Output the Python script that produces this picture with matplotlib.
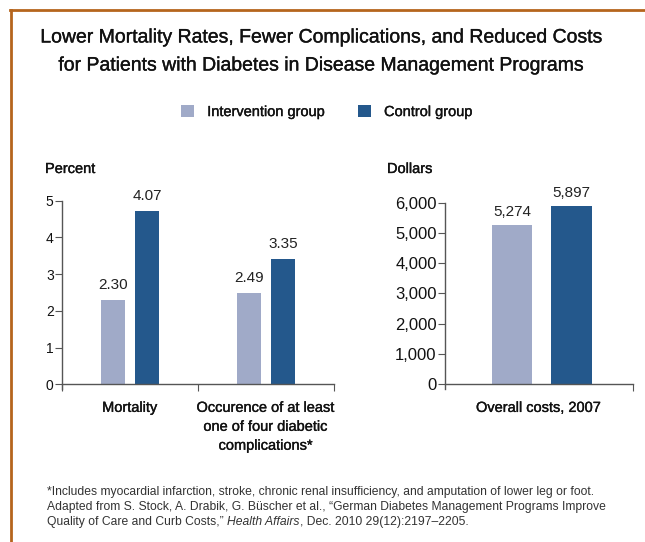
import matplotlib.pyplot as plt
import matplotlib.patheffects as pe
from matplotlib.patches import Patch
from matplotlib.lines import Line2D

plt.rcParams['font.family'] = ['Liberation Sans', 'DejaVu Sans']

# data
groups = ['Intervention group', 'Control group']
pct_categories = ['Mortality', 'Occurence of at least\none of four diabetic\ncomplications*']
pct_intervention = [2.30, 2.49]
pct_control = [4.72, 3.40]           # bar heights as drawn
pct_int_labels = ['2.30', '2.49']
pct_ctl_labels = ['4.07', '3.35']    # printed labels
cost_category = 'Overall costs, 2007'
cost_values = [5274, 5897]
cost_labels = ['5,274', '5,897']
pct_ticks = [0, 1, 2, 3, 4, 5]
cost_ticks = [0, 1000, 2000, 3000, 4000, 5000, 6000]

light = '#A0AAC8'
dark = '#24588C'
axis_col = '#555555'
txt = '#111111'
heavy = [pe.withStroke(linewidth=0.25, foreground=txt)]

W, H = 645, 542
fig = plt.figure(figsize=(W / 100, H / 100), dpi=100)


def px(x, y):
    return x / W, 1 - y / H


# frame lines (top and left only)
fig.add_artist(Line2D([10 / W, 1], [1 - 10 / H] * 2, color='#B5651D', lw=2, transform=fig.transFigure))
fig.add_artist(Line2D([11 / W] * 2, [0, 1 - 10 / H], color='#B5651D', lw=2, transform=fig.transFigure))

fig.text(*px(323, 52), 'Lower Mortality Rates, Fewer Complications, and Reduced Costs\n'
         'for Patients with Diabetes in Disease Management Programs',
         ha='center', va='center', fontsize=14, color=txt, linespacing=1.85, path_effects=heavy)

handles = [Patch(facecolor=light, edgecolor='none'), Patch(facecolor=dark, edgecolor='none')]
leg = fig.legend(handles, groups, loc='center', bbox_to_anchor=px(327, 112), ncol=2, frameon=False,
                 fontsize=10.5, handlelength=0.9, handleheight=0.9, columnspacing=2.2,
                 handletextpad=0.9)
for t in leg.get_texts():
    t.set_color(txt)
    t.set_path_effects(heavy)


def style(ax, ticks, fs):
    for s in ['top', 'right']:
        ax.spines[s].set_visible(False)
    ax.spines['bottom'].set_position(('data', 0))
    for s in ['left', 'bottom']:
        ax.spines[s].set_color(axis_col)
        ax.spines[s].set_linewidth(1)
    ax.set_yticks(ticks)
    ax.tick_params(axis='y', direction='out', length=5, color=axis_col, labelsize=fs, pad=1,
                   labelcolor=txt)
    ax.tick_params(axis='x', direction='out', length=5, color=axis_col, labelbottom=False)


# left panel: percent
ax1 = fig.add_axes([62 / W, 0.2828, 272 / W, 0.3469])
x = [0.5, 1.5]
xi = [v - 0.125 for v in x]
xc = [v + 0.125 for v in x]
ax1.bar(xi, pct_intervention, width=0.17, color=light)
ax1.bar(xc, pct_control, width=0.18, color=dark)
for xx, v, lab in zip(xi, pct_intervention, pct_int_labels):
    ax1.text(xx, v + 0.22, lab, ha='center', va='bottom', fontsize=11, color='#222222')
for xx, v, lab in zip(xc, pct_control, pct_ctl_labels):
    ax1.text(xx, v + 0.22, lab, ha='center', va='bottom', fontsize=11, color='#222222')
ax1.set_xlim(0, 2)
ax1.set_ylim(-0.12, 5)
style(ax1, pct_ticks, 10)
ax1.set_xticks([0, 1, 2])
ax1.spines['left'].set_bounds(-0.12, 5)
ax1.text(0.5, -0.45, pct_categories[0], ha='center', va='top', fontsize=10.5, color=txt,
         path_effects=heavy)
ax1.text(1.5, -0.45, pct_categories[1], ha='center', va='top', fontsize=10.5, color=txt,
         linespacing=1.45, path_effects=heavy)
fig.text(*px(45, 169), 'Percent', ha='left', va='center', fontsize=10.5, color=txt,
         path_effects=heavy)

# right panel: dollars
ax2 = fig.add_axes([445 / W, 0.2821, 188 / W, 0.3439])
xd = [0.357, 0.673]
ax2.bar(xd[0], cost_values[0], width=0.21, color=light)
ax2.bar(xd[1], cost_values[1], width=0.22, color=dark)
for xx, v, lab in zip(xd, cost_values, cost_labels):
    ax2.text(xx, v + 180, lab, ha='center', va='bottom', fontsize=11, color='#222222')
ax2.set_xlim(0, 1)
ax2.set_ylim(-160, 6000)
style(ax2, cost_ticks, 12)
ax2.set_yticklabels([f'{t:,}' for t in cost_ticks])
ax2.set_xticks([1])
ax2.text(0.5, -550, cost_category, ha='center', va='top', fontsize=10.5, color=txt,
         path_effects=heavy)
fig.text(*px(387, 169), 'Dollars', ha='left', va='center', fontsize=10.5, color=txt,
         path_effects=heavy)

# footnote
fc = '#333333'
fs = 8.75
fig.text(47 / W, 1 - 492 / H, '*Includes myocardial infarction, stroke, chronic renal insufficiency, '
         'and amputation of lower leg or foot.', fontsize=fs, color=fc, va='center')
fig.text(47 / W, 1 - 507 / H, 'Adapted from S. Stock, A. Drabik, G. B\u00fcscher et al., '
         '\u201cGerman Diabetes Management Programs Improve', fontsize=fs, color=fc, va='center')
t1 = fig.text(47 / W, 1 - 522 / H, 'Quality of Care and Curb Costs,\u201d ', fontsize=fs, color=fc,
              va='center')
t2 = fig.add_artist(plt.Annotation('Health Affairs', xy=(1, 0), xycoords=t1, fontsize=fs, color=fc,
                                   style='italic', va='bottom', ha='left'))
fig.add_artist(plt.Annotation(', Dec. 2010 29(12):2197\u20132205.', xy=(1, 0), xycoords=t2,
                              fontsize=fs, color=fc, va='bottom', ha='left'))

fig.savefig('out.png', dpi=100)
